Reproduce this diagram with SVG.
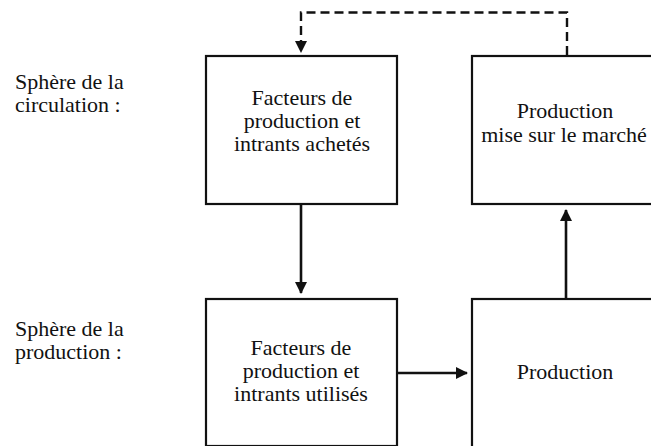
<svg xmlns="http://www.w3.org/2000/svg" width="651" height="446" viewBox="0 0 651 446">
  <style>
    .box { fill: #ffffff; stroke: #111111; stroke-width: 2.2; }
    .txt { font-family: 'Liberation Serif', 'DejaVu Serif', 'Times New Roman', serif; font-size: 22px; fill: #111111; }
    .mid { text-anchor: middle; }
    .link { fill: none; stroke: #111111; stroke-width: 2.6; }
    .dash { fill: none; stroke: #111111; stroke-width: 2.4; stroke-dasharray: 9 5; }
  </style>
  <defs>
    <marker id="head" viewBox="0 0 12 12" refX="11" refY="6" markerWidth="12" markerHeight="12" markerUnits="userSpaceOnUse" orient="auto">
      <path d="M0,0 L12,6 L0,12 Z" fill="#111111"/>
    </marker>
  </defs>
  <rect width="651" height="446" fill="#ffffff"/>

  <!-- side labels -->
  <g id="label-circulation">
    <text class="txt" font-family="Liberation Serif, DejaVu Serif, serif" x="15" y="89">Sphère de la</text>
    <text class="txt" font-family="Liberation Serif, DejaVu Serif, serif" x="15" y="112">circulation :</text>
  </g>
  <g id="label-production">
    <text class="txt" x="15" y="336">Sphère de la</text>
    <text class="txt" x="15" y="359">production :</text>
  </g>

  <!-- nodes -->
  <g id="facteurs-achetes">
    <rect class="box" x="206" y="56" width="191" height="148"/>
    <text class="txt mid" x="302" y="105">Facteurs de</text>
    <text class="txt mid" x="302" y="128">production et</text>
    <text class="txt mid" x="302" y="151">intrants achetés</text>
  </g>
  <g id="production-marche">
    <rect class="box" x="472" y="56" width="200" height="148"/>
    <text class="txt mid" x="565" y="118">Production</text>
    <text class="txt mid" x="564" y="142">mise sur le marché</text>
  </g>
  <g id="facteurs-utilises">
    <rect class="box" x="206" y="299" width="191" height="147"/>
    <text class="txt mid" x="301" y="355">Facteurs de</text>
    <text class="txt mid" x="301" y="378">production et</text>
    <text class="txt mid" x="301" y="401">intrants utilisés</text>
  </g>
  <g id="production">
    <rect class="box" x="472" y="299" width="200" height="149"/>
    <text class="txt mid" x="565" y="379">Production</text>
  </g>

  <!-- connectors -->
  <g id="connectors">
    <line class="link" x1="301" y1="205" x2="301" y2="293" marker-end="url(#head)"/>
    <line class="link" x1="398" y1="373" x2="467" y2="373" marker-end="url(#head)"/>
    <line class="link" x1="566" y1="298" x2="566" y2="210" marker-end="url(#head)"/>
    <path class="dash" d="M567,55 L567,12.5 L301,12.5 L301,52" marker-end="url(#head)"/>
  </g>
</svg>
